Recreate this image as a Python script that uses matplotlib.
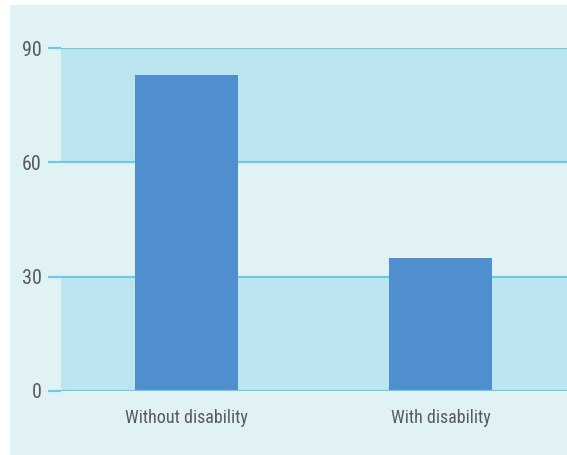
import matplotlib.pyplot as plt
from matplotlib.patches import Rectangle

categories = ["Without disability", "With disability"]
values = [83, 35]
y_ticks = [0, 30, 60, 90]

panel_color = "#e1f2f5"
band_color = "#bce6ef"
line_color = "#6ccde1"
bar_color = "#4f8fcd"
text_color = "#5a5a5a"

plt.rcParams['font.family'] = ['Roboto Condensed', 'Liberation Sans Narrow', 'DejaVu Sans']
plt.rcParams['font.stretch'] = 'condensed'

W, H = 567, 455
fig = plt.figure(figsize=(W / 100, H / 100), dpi=100)
fig.patch.set_facecolor("white")
fig.patches.append(Rectangle((10 / W, 0), 1 - 10 / W, 1 - 5 / H,
                             transform=fig.transFigure, facecolor=panel_color,
                             edgecolor="none", zorder=-10))

ax = fig.add_axes([61 / W, 64 / H, 1 - 61 / W, 343 / H])
ax.set_facecolor("none")

# alternating bands
for i in range(0, len(y_ticks) - 1, 2):
    ax.axhspan(y_ticks[i], y_ticks[i + 1], color=band_color, lw=0, zorder=0)

x = list(range(len(categories)))
ax.bar(x, values, width=0.405, color=bar_color, zorder=2)

for t in y_ticks:
    ax.axhline(t, color=line_color, lw=1.6, zorder=3 if t == 0 else 1)

ax.set_xlim(-0.494, 1.498)
ax.set_ylim(0, 90)
ax.set_yticks(y_ticks)
ax.set_xticks(x)
ax.set_xticklabels(categories)

for s in ax.spines.values():
    s.set_visible(False)
ax.tick_params(axis="y", length=9.4, width=1.6, color=line_color, pad=4.3,
               labelsize=14.5, labelcolor=text_color)
ax.tick_params(axis="x", length=0, pad=13, labelsize=13, labelcolor=text_color)

fig.savefig("out.png", dpi=100)
